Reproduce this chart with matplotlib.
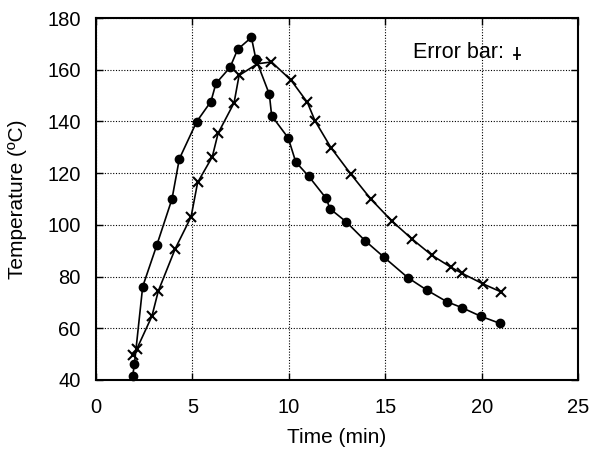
import matplotlib
matplotlib.use('Agg')
import matplotlib.pyplot as plt

plt.rcParams['font.family'] = ['Liberation Sans', 'DejaVu Sans']

# series with filled circles
t_dot = [1.90, 1.99, 2.42, 3.15, 3.94, 4.32, 5.22, 5.96, 6.22, 6.95, 7.35, 8.06,
         8.29, 8.99, 9.11, 9.97, 10.36, 11.03, 11.93, 12.14, 12.97, 13.95, 14.95,
         16.17, 17.15, 18.19, 18.97, 19.97, 20.95]
temp_dot = [41.5, 46.1, 76.1, 92.1, 110.0, 125.5, 139.9, 147.7, 154.7, 160.9, 167.9, 172.5,
            164.1, 150.5, 142.2, 133.6, 124.3, 118.8, 110.3, 106.2, 101.2, 93.9, 87.4,
            79.6, 74.8, 70.3, 68.0, 64.6, 61.9]

# series with crosses
t_x = [1.94, 2.11, 2.90, 3.23, 4.11, 4.93, 5.27, 6.03, 6.33, 7.16, 7.42, 8.37,
       9.10, 10.11, 10.96, 11.36, 12.19, 13.23, 14.25, 15.34, 16.41, 17.41,
       18.41, 19.00, 20.09, 21.00]
temp_x = [49.7, 51.9, 64.7, 74.4, 90.8, 103.1, 116.4, 126.3, 135.4, 147.2, 157.8, 162.3,
          163.0, 156.0, 147.4, 140.2, 129.8, 119.5, 110.0, 101.5, 94.4, 88.3,
          83.6, 81.2, 77.1, 74.1]

fig = plt.figure(figsize=(5.92, 4.49), dpi=100)
ax = fig.add_axes([0.1622, 0.1537, 0.8142, 0.8062])

ax.plot(t_dot, temp_dot, '-o', color='black', lw=1.2, ms=6, clip_on=False, zorder=3)
ax.plot(t_x, temp_x, '-x', color='black', lw=1.2, ms=6.5, mew=1.5, clip_on=False, zorder=3)

ax.set_xlim(0, 25)
ax.set_ylim(40, 180)
ax.set_xticks(range(0, 26, 5))
ax.set_yticks(range(40, 181, 20))
ax.grid(True, color='black', linestyle=(0, (1, 1.5)), linewidth=0.8)
ax.tick_params(direction='in', top=True, right=True, length=5, width=1, labelsize=14.5)
ax.tick_params(axis='y', pad=11)
ax.tick_params(axis='x', pad=13)
for s in ax.spines.values():
    s.set_linewidth(1.5)

ax.set_xlabel('Time (min)', fontsize=15)
ax.set_ylabel('Temperature (\u00baC)', fontsize=15)
ax.xaxis.set_label_coords(0.5, -0.133)
ax.yaxis.set_label_coords(-0.143, 0.5)

ax.text(0.658, 0.905, 'Error bar:', transform=ax.transAxes, fontsize=15.5,
        va='center', ha='left')
# small error-bar symbol next to the note
ax.errorbar([0.873], [0.902], yerr=[[0.017], [0.017]], transform=ax.transAxes,
            fmt='none', ecolor='black', elinewidth=1.3, capsize=0, clip_on=False)
ax.plot([0.867, 0.879], [0.897, 0.897], color='black', lw=1.3, transform=ax.transAxes)

plt.savefig('out.png', dpi=100)
